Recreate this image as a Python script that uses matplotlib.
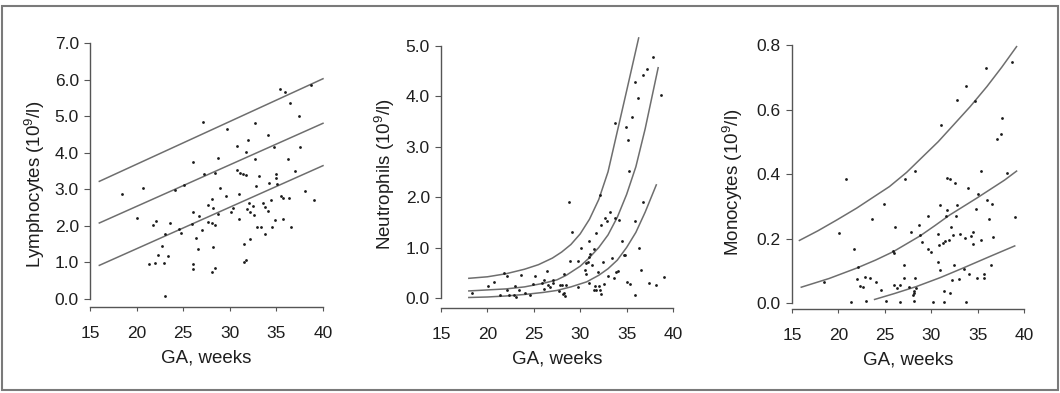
import matplotlib
matplotlib.use('Agg')
import matplotlib.pyplot as plt
from matplotlib.patches import Rectangle

plt.rcParams['font.family'] = ['Liberation Sans', 'DejaVu Sans']
plt.rcParams['mathtext.fontset'] = 'custom'
plt.rcParams['mathtext.rm'] = 'Liberation Sans'
plt.rcParams['mathtext.it'] = 'Liberation Sans:italic'

# ---------------- data ----------------
x_ticks = [15, 20, 25, 30, 35, 40]

lym_x = [18.4, 20.7, 20.0, 21.75, 22.1, 21.3, 22.0, 22.3, 22.7, 22.9, 23.1, 23.4, 23.6, 23.0,
         24.1, 24.6, 24.8, 25.1, 26.0, 26.0, 25.9, 26.0, 26.0, 26.4, 26.6, 26.7, 27.0, 27.1,
         27.2, 27.7, 27.7, 28.1, 28.1, 28.2, 28.25, 28.4, 28.4, 28.4, 28.1, 28.7, 28.7, 29.0,
         29.75, 29.6, 30.1, 30.3, 30.75, 30.8, 31.0, 31.0, 31.1, 31.4, 31.7, 31.7, 31.5, 31.5,
         31.75, 32.0, 31.8, 32.1, 32.2, 32.2, 32.5, 32.6, 32.7, 32.75, 32.8, 33.1, 32.9, 33.4,
         33.6, 33.75, 33.8, 34.1, 34.2, 34.1, 34.5, 34.4, 34.7, 34.9, 35.0, 35.0, 35.1, 35.4,
         35.5, 35.7, 35.75, 35.9, 36.2, 36.4, 36.5, 36.6, 36.95, 37.4, 37.5, 38.1, 38.7, 39.0]
lym_y = [2.88, 3.04, 2.21, 2.03, 2.13, 0.96, 0.98, 1.21, 1.45, 0.98, 1.79, 1.19, 2.07, 0.09,
         2.98, 1.91, 1.80, 3.12, 3.74, 2.37, 2.04, 0.97, 0.81, 1.67, 1.37, 2.28, 1.89, 4.85,
         3.43, 2.56, 2.12, 2.75, 2.08, 2.50, 1.42, 3.45, 2.03, 0.85, 0.73, 3.86, 2.32, 3.03,
         4.66, 2.82, 2.38, 2.50, 4.18, 3.53, 2.87, 2.19, 3.46, 3.41, 3.39, 4.02, 1.50, 1.02,
         1.07, 4.35, 2.47, 2.62, 2.38, 1.63, 2.54, 2.29, 4.83, 3.83, 3.08, 3.38, 1.97, 1.97,
         2.62, 2.52, 1.78, 4.49, 3.17, 2.40, 1.97, 2.70, 4.16, 2.17, 3.41, 3.32, 3.16, 5.74,
         2.81, 2.76, 2.20, 5.66, 3.82, 2.76, 5.37, 1.96, 3.49, 5.01, 4.17, 2.96, 5.86, 2.71]
lym_line_x = [16.0, 40.0]
lym_upper = [3.22, 6.03]
lym_mid = [2.08, 4.81]
lym_lower = [0.92, 3.65]
lym_yticks = [0.0, 1.0, 2.0, 3.0, 4.0, 5.0, 6.0, 7.0]

neu_x = [18.3, 20.1, 20.7, 21.35, 21.8, 22.1, 22.1, 22.3, 22.9, 23.0, 23.1, 23.4, 23.6, 24.1,
         24.6, 25.1, 24.9, 25.9, 26.05, 26.05, 26.4, 26.55, 26.7, 27.1, 27.1, 27.7, 27.8, 28.0,
         28.3, 28.3, 28.4, 28.5, 28.1, 28.8, 28.9, 29.1, 29.8, 29.8, 30.1, 30.5, 30.6, 30.6,
         30.8, 30.9, 31.0, 31.0, 31.1, 31.3, 31.5, 31.5, 31.6, 31.7, 31.75, 31.9, 32.0, 32.1,
         32.1, 32.2, 32.2, 32.5, 32.6, 32.7, 32.9, 33.0, 33.2, 33.4, 33.6, 33.8, 33.8, 33.9,
         34.05, 34.2, 34.5, 34.7, 34.8, 34.9, 35.0, 35.2, 35.3, 35.4, 35.6, 35.9, 35.9, 35.9,
         36.2, 36.3, 36.6, 36.8, 36.8, 37.2, 37.4, 37.8, 38.2, 38.7, 39.0]
neu_y = [0.10, 0.24, 0.31, 0.05, 0.49, 0.44, 0.15, 0.05, 0.05, 0.24, 0.01, 0.16, 0.46, 0.10,
         0.05, 0.44, 0.28, 0.30, 0.35, 0.17, 0.54, 0.25, 0.22, 0.35, 0.30, 0.13, 0.26, 0.26,
         0.47, 0.09, 0.04, 0.26, 0.08, 1.91, 0.74, 1.30, 0.21, 0.74, 1.00, 0.56, 0.48, 0.69,
         0.71, 0.82, 1.12, 0.30, 0.88, 0.65, 0.97, 0.15, 0.23, 0.16, 1.29, 0.52, 0.23, 0.16,
         2.04, 1.45, 0.07, 0.71, 0.28, 1.58, 1.52, 0.43, 1.70, 0.80, 0.40, 3.47, 1.58, 0.51,
         0.53, 1.54, 1.13, 0.86, 0.86, 3.38, 0.31, 3.12, 2.51, 0.28, 3.58, 4.27, 0.05, 1.53,
         3.96, 0.99, 0.55, 4.42, 1.91, 4.53, 0.30, 4.77, 0.26, 4.03, 0.42]
neu_upper_x = [18, 20, 22, 24, 25.5, 27, 28, 29, 30, 31, 32, 33, 34, 35, 36.3]
neu_upper_y = [0.39, 0.42, 0.48, 0.57, 0.66, 0.79, 0.91, 1.06, 1.27, 1.56, 1.95, 2.5, 3.3, 4.1, 5.15]
neu_mid_x = [18, 20, 22, 24, 26, 27.5, 28.5, 30, 31, 32, 33, 34, 35, 36, 37, 38.4]
neu_mid_y = [0.14, 0.16, 0.18, 0.22, 0.29, 0.36, 0.45, 0.63, 0.80, 1.0, 1.25, 1.6, 2.05, 2.6, 3.35, 4.56]
neu_lower_x = [18, 20, 22, 24, 26, 27.5, 29, 30.7, 32, 33, 34, 35, 36, 37, 38.2]
neu_lower_y = [0.01, 0.02, 0.04, 0.07, 0.11, 0.15, 0.22, 0.32, 0.45, 0.58, 0.75, 1.0, 1.3, 1.7, 2.24]
neu_yticks = [0.0, 1.0, 2.0, 3.0, 4.0, 5.0]

mono_x = [18.4, 20.1, 20.8, 21.7, 21.35, 22.0, 22.1, 22.3, 22.7, 22.9, 23.0, 23.4, 23.6, 24.1,
          24.6, 24.9, 25.1, 25.9, 26.0, 26.05, 26.0, 26.3, 26.6, 26.6, 27.1, 27.05, 27.2, 27.6,
          27.8, 28.0, 28.1, 28.1, 28.2, 28.3, 28.3, 28.4, 28.7, 28.8, 29.0, 29.7, 29.7, 30.0,
          30.2, 30.7, 30.7, 30.8, 30.96, 31.0, 31.1, 31.25, 31.4, 31.4, 31.5, 31.6, 31.7, 31.7,
          31.9, 32.0, 32.05, 32.1, 32.2, 32.4, 32.5, 32.6, 32.7, 32.75, 32.8, 33.0, 33.1, 33.5,
          33.65, 33.7, 33.7, 34.0, 34.1, 34.3, 34.5, 34.5, 34.7, 34.8, 34.9, 35.0, 35.4, 35.4,
          35.7, 35.7, 35.9, 36.05, 36.2, 36.5, 36.45, 36.7, 37.1, 37.5, 37.6, 38.2, 38.75, 39.0]
mono_y = [0.065, 0.217, 0.384, 0.167, 0.003, 0.074, 0.111, 0.054, 0.050, 0.082, 0.005, 0.077,
          0.261, 0.065, 0.041, 0.308, 0.006, 0.160, 0.155, 0.235, 0.055, 0.046, 0.055, 0.004,
          0.119, 0.077, 0.386, 0.049, 0.219, 0.026, 0.005, 0.036, 0.031, 0.408, 0.079, 0.046,
          0.243, 0.210, 0.189, 0.270, 0.168, 0.157, 0.003, 0.215, 0.127, 0.181, 0.305, 0.103,
          0.552, 0.186, 0.038, 0.002, 0.191, 0.270, 0.387, 0.289, 0.194, 0.031, 0.383, 0.235,
          0.072, 0.210, 0.119, 0.372, 0.270, 0.305, 0.628, 0.075, 0.215, 0.106, 0.201, 0.674,
          0.002, 0.356, 0.090, 0.209, 0.220, 0.183, 0.625, 0.291, 0.077, 0.338, 0.196, 0.410,
          0.077, 0.090, 0.728, 0.320, 0.260, 0.307, 0.119, 0.206, 0.509, 0.523, 0.573, 0.403,
          0.746, 0.268]
mono_upper_x = [15.8, 17.8, 19.8, 21.96, 23.7, 25.5, 27.35, 29.1, 30.75, 32.4, 34.2, 36.0, 37.6, 39.2]
mono_upper_y = [0.194, 0.224, 0.257, 0.294, 0.327, 0.361, 0.405, 0.454, 0.500, 0.552, 0.609, 0.671, 0.731, 0.795]
mono_mid_x = [16.0, 19.0, 21.95, 24.0, 25.9, 28.8, 30.4, 32.0, 34.9, 36.4, 37.9, 39.2]
mono_mid_y = [0.049, 0.076, 0.108, 0.133, 0.159, 0.208, 0.240, 0.273, 0.325, 0.353, 0.381, 0.409]
mono_lower_x = [23.9, 26.0, 28.4, 31.0, 33.4, 36.3, 39.0]
mono_lower_y = [0.011, 0.029, 0.051, 0.079, 0.108, 0.144, 0.177]
mono_yticks = [0.0, 0.2, 0.4, 0.6, 0.8]

# ---------------- style ----------------
TEXT = '#1e1e1e'
AXC = '#555555'
CURVE = '#6e6e6e'
DOT = '#1a1a1a'

W, H = 1060, 393
fig = plt.figure(figsize=(W / 100, H / 100), dpi=100)
fig.patch.set_facecolor('white')

def px_axes(left, top, right, bottom):
    return fig.add_axes([left / W, (H - bottom) / H, (right - left) / W, (bottom - top) / H])

def style(ax, ylim, yticks, ylabel, label_x, label_y):
    ax.set_xlim(15, 40)
    ax.set_ylim(*ylim)
    ax.patch.set_alpha(0)
    for s in ('top', 'right'):
        ax.spines[s].set_visible(False)
    for s in ('left', 'bottom'):
        ax.spines[s].set_color(AXC)
        ax.spines[s].set_linewidth(1.0)
    ax.spines['left'].set_bounds(yticks[0], yticks[-1])
    ax.set_xticks(x_ticks)
    ax.set_xticklabels([str(t) for t in x_ticks])
    ax.set_yticks(yticks)
    ax.set_yticklabels([f'{t:.1f}' for t in yticks])
    ax.tick_params(axis='x', direction='out', length=3, width=0.8, pad=11,
                   labelsize=12.5, colors=AXC, labelcolor=TEXT)
    ax.tick_params(axis='y', direction='out', length=4, width=0.8, pad=4,
                   labelsize=12.5, colors=AXC, labelcolor=TEXT)
    ax.set_xlabel('GA, weeks', fontsize=13.5, color=TEXT, labelpad=6)
    ax.set_ylabel(ylabel, fontsize=13.5, color=TEXT)
    ax.yaxis.set_label_coords(label_x, label_y)

# Panel 1: lymphocytes
ax1 = px_axes(90, 43.3, 323, 307)
style(ax1, (-0.22, 7.0), lym_yticks, 'Lymphocytes (10$^{9}$/l)', -0.185, 0.466)
for yy in (lym_upper, lym_mid, lym_lower):
    ax1.plot(lym_line_x, yy, color=CURVE, lw=1.1, clip_on=False)
ax1.plot(lym_x, lym_y, 'o', ms=2.0, color=DOT, mew=0, clip_on=False)

# Panel 2: neutrophils
ax2 = px_axes(441, 32.9, 673, 308)
style(ax2, (-0.198, 5.25), neu_yticks, 'Neutrophils (10$^{9}$/l)', -0.19, 0.487)
for xx, yy in ((neu_upper_x, neu_upper_y), (neu_mid_x, neu_mid_y), (neu_lower_x, neu_lower_y)):
    ax2.plot(xx, yy, color=CURVE, lw=1.1, clip_on=False)
ax2.plot(neu_x, neu_y, 'o', ms=2.0, color=DOT, mew=0, clip_on=False)

# Panel 3: monocytes
ax3 = px_axes(792, 45, 1024, 309)
style(ax3, (-0.0186, 0.8), mono_yticks, 'Monocytes (10$^{9}$/l)', -0.2025, 0.481)
for xx, yy in ((mono_upper_x, mono_upper_y), (mono_mid_x, mono_mid_y), (mono_lower_x, mono_lower_y)):
    ax3.plot(xx, yy, color=CURVE, lw=1.1, clip_on=False)
ax3.plot(mono_x, mono_y, 'o', ms=2.0, color=DOT, mew=0, clip_on=False)

# outer frame
fig.patches.append(Rectangle((2 / W, 3 / H), 1056 / W, 384 / H, transform=fig.transFigure,
                             fill=False, ec='#7a7a7a', lw=1.5))

fig.savefig('out.png', dpi=100, facecolor='white')
